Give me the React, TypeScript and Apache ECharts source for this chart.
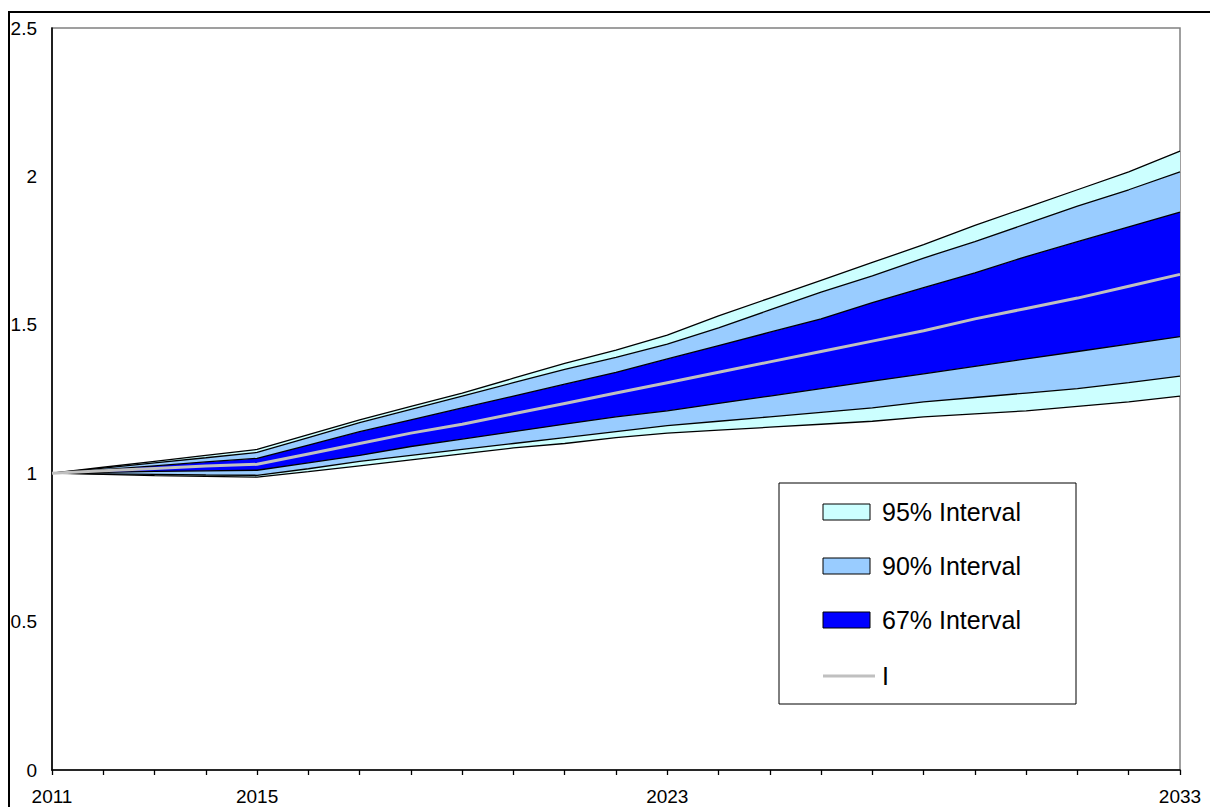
import React, { useEffect, useRef } from 'react';
import * as echarts from 'echarts';

const years = ['2011', '2012', '2013', '2014', '2015', '2016', '2017', '2018', '2019', '2020', '2021', '2022', '2023', '2024', '2025', '2026', '2027', '2028', '2029', '2030', '2031', '2032', '2033'];
const shownYears = ['2011', '2015', '2023', '2033'];

const upper95 = [1.0, 1.02, 1.04, 1.06, 1.08, 1.13, 1.18, 1.225, 1.27, 1.32, 1.37, 1.415, 1.465, 1.53, 1.59, 1.65, 1.71, 1.77, 1.835, 1.895, 1.955, 2.015, 2.085];
const upper90 = [1.0, 1.017, 1.035, 1.052, 1.07, 1.12, 1.17, 1.215, 1.26, 1.305, 1.35, 1.39, 1.435, 1.49, 1.55, 1.61, 1.665, 1.725, 1.78, 1.84, 1.9, 1.955, 2.015];
const upper67 = [1.0, 1.012, 1.025, 1.038, 1.05, 1.095, 1.14, 1.18, 1.22, 1.26, 1.3, 1.34, 1.385, 1.43, 1.475, 1.52, 1.575, 1.625, 1.675, 1.73, 1.78, 1.83, 1.88];
const median = [1.0, 1.008, 1.016, 1.024, 1.03, 1.065, 1.1, 1.135, 1.165, 1.2, 1.235, 1.27, 1.305, 1.34, 1.375, 1.41, 1.445, 1.48, 1.52, 1.555, 1.59, 1.63, 1.67];
const lower67 = [1.0, 1.003, 1.006, 1.008, 1.01, 1.035, 1.06, 1.09, 1.115, 1.14, 1.165, 1.19, 1.21, 1.235, 1.26, 1.285, 1.31, 1.335, 1.36, 1.385, 1.41, 1.435, 1.46];
const lower90 = [1.0, 0.998, 0.996, 0.994, 0.993, 1.015, 1.04, 1.06, 1.08, 1.1, 1.12, 1.14, 1.16, 1.175, 1.19, 1.205, 1.22, 1.24, 1.255, 1.27, 1.285, 1.305, 1.327];
const lower95 = [1.0, 0.996, 0.992, 0.989, 0.987, 1.005, 1.025, 1.045, 1.065, 1.085, 1.1, 1.12, 1.135, 1.145, 1.155, 1.165, 1.175, 1.19, 1.2, 1.21, 1.225, 1.24, 1.26];

const legendNames = ['95% Interval', '90% Interval', '67% Interval', 'I'];

const C95 = '#CCFFFF';
const C90 = '#99CCFF';
const C67 = '#0000FF';
const CMED = '#C0C0C0';
const FONT = 'Arial, "Liberation Sans", sans-serif';

export default function App() {
  const ref = useRef<HTMLDivElement>(null);

  useEffect(() => {
    const chart = echarts.init(ref.current as HTMLDivElement, null, { renderer: 'svg' });
    const diff = (a: number[], b: number[]) => a.map((v, i) => +(v - b[i]).toFixed(5));

    const bands = [
      { data: diff(lower90, lower95), color: C95 },
      { data: diff(lower67, lower90), color: C90 },
      { data: diff(upper67, lower67), color: C67 },
      { data: diff(upper90, upper67), color: C90 },
      { data: diff(upper95, upper90), color: C95 },
    ];
    const boundaries = [lower95, lower90, lower67, upper67, upper90, upper95];

    const series: any[] = [
      {
        type: 'line',
        stack: 'band',
        data: lower95,
        symbol: 'none',
        lineStyle: { opacity: 0, width: 0 },
        silent: true,
        z: 2,
      },
      ...bands.map((b) => ({
        type: 'line',
        stack: 'band',
        data: b.data,
        symbol: 'none',
        lineStyle: { opacity: 0, width: 0 },
        areaStyle: { color: b.color, opacity: 1 },
        silent: true,
        z: 2,
      })),
      ...boundaries.map((d) => ({
        type: 'line',
        data: d,
        symbol: 'none',
        lineStyle: { color: '#000000', width: 1.3 },
        silent: true,
        z: 3,
      })),
      {
        type: 'line',
        name: 'I',
        data: median,
        symbol: 'none',
        lineStyle: { color: CMED, width: 3 },
        silent: true,
        z: 4,
      },
    ];

    const lx = 779;
    const ly = 483;
    const rowY = [512, 566, 620, 676];
    const colors = [C95, C90, C67];
    const legendChildren: any[] = [
      {
        type: 'rect',
        shape: { x: lx, y: ly, width: 297, height: 221 },
        style: { fill: '#FFFFFF', stroke: '#000000', lineWidth: 1 },
      },
    ];
    colors.forEach((c, i) => {
      legendChildren.push({
        type: 'rect',
        shape: { x: 823, y: rowY[i] - 8, width: 47, height: 16 },
        style: { fill: c, stroke: '#000000', lineWidth: 1 },
      });
    });
    legendChildren.push({
      type: 'line',
      shape: { x1: 823, y1: rowY[3], x2: 875, y2: rowY[3] },
      style: { stroke: CMED, lineWidth: 3 },
    });
    legendNames.forEach((n, i) => {
      legendChildren.push({
        type: 'text',
        x: 882,
        y: rowY[i],
        style: {
          text: n,
          fill: '#000000',
          font: `25px ${FONT}`,
          textAlign: 'left',
          textVerticalAlign: 'middle',
        },
      });
    });

    chart.setOption({
      animation: false,
      backgroundColor: '#FFFFFF',
      grid: {
        left: 52,
        top: 28,
        right: 30,
        bottom: 37,
        show: true,
        borderColor: '#808080',
        borderWidth: 1.5,
        backgroundColor: 'transparent',
      },
      xAxis: {
        type: 'category',
        data: years,
        boundaryGap: false,
        axisLine: { show: true, lineStyle: { color: '#000000', width: 1.6 } },
        axisTick: { show: true, interval: 0, length: 5, inside: false, lineStyle: { color: '#000000', width: 1.3 } },
        axisLabel: {
          interval: (_i: number, v: string) => shownYears.includes(v),
          color: '#000000',
          fontSize: 19,
          fontFamily: FONT,
          margin: 17,
        },
        splitLine: { show: false },
      },
      yAxis: {
        type: 'value',
        min: 0,
        max: 2.5,
        interval: 0.5,
        axisLine: { show: true, lineStyle: { color: '#000000', width: 1.6 } },
        axisTick: { show: false },
        axisLabel: { color: '#000000', fontSize: 19, fontFamily: FONT, margin: 15 },
        splitLine: { show: false },
      },
      series,
      graphic: [
        {
          type: 'rect',
          shape: { x: 9, y: 12, width: 1400, height: 1000 },
          style: { fill: 'none', stroke: '#000000', lineWidth: 2 },
          z: 10,
        },
        { type: 'group', children: legendChildren, z: 20 },
      ],
    });

    return () => chart.dispose();
  }, []);

  return <div ref={ref} style={{ position: 'fixed', left: 0, top: 0, width: 1210, height: 807 }} />;
}
